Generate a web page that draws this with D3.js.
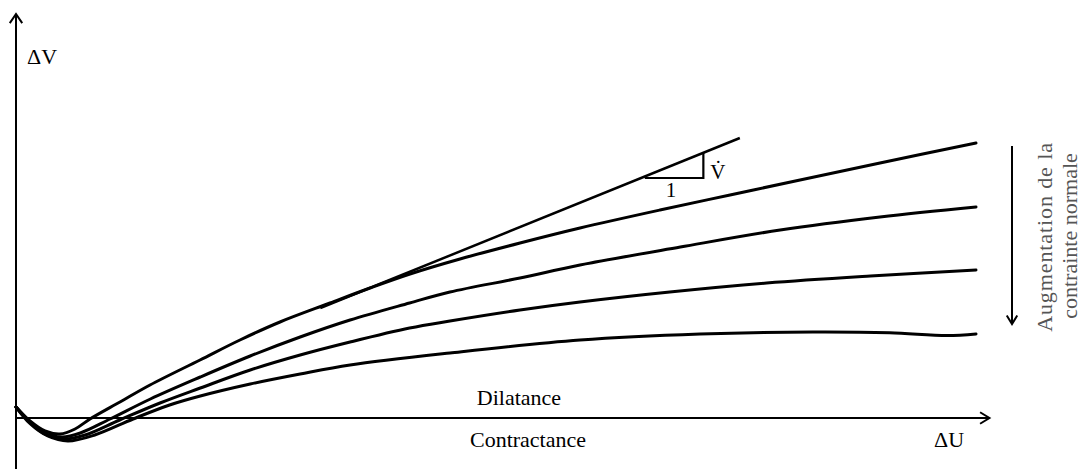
<!DOCTYPE html>
<html>
<head>
<meta charset="utf-8">
<script src="https://cdn.jsdelivr.net/npm/d3@7"></script>
<style>
  html, body { margin: 0; padding: 0; background: #fff; }
  svg { display: block; }
  text { font-family: "Liberation Serif", "Times New Roman", serif; }
</style>
</head>
<body>
<svg id="chart" width="1082" height="469"></svg>
<script>
const curve1X = [0, 1.46, 3.02, 4.58, 6.15, 7.71, 10.83, 13.96, 19.17, 23.33, 27.5, 32.71, 36.88, 41.04, 46.25, 52.5, 58.75, 67.08, 74.38, 81.67, 90, 100];
const curve1Y = [2.75, -0.75, -3.25, -4, -2.75, -0.25, 4, 8.25, 14.5, 19.5, 24, 28.75, 32.5, 36, 39.75, 43.75, 47.5, 52, 55.75, 59.5, 63.75, 68.75];

const curve2X = [0, 1.5, 3, 4.8, 6.7, 9.8, 14, 19.2, 24.4, 29.6, 34.8, 41, 45.2, 52.5, 58.75, 69.2, 79.6, 90, 100];
const curve2Y = [2.75, -1, -3.75, -4.75, -3.75, -0.25, 4.75, 10.25, 15.5, 20.25, 24.5, 28.75, 31.5, 35, 38.25, 42.75, 47, 50.25, 52.75];

const curve3X = [0, 1.5, 3, 5, 7.2, 10.8, 15, 19.2, 24.4, 29.6, 34.8, 41, 45.2, 52.5, 58.75, 68.1, 78.2, 89, 100];
const curve3Y = [2.75, -1.25, -4, -5.25, -4.25, -0.5, 3.75, 7.5, 12, 15.75, 19, 22.5, 24.25, 27, 29, 31.5, 33.75, 35.5, 37];

const curve4X = [0, 1.5, 3.3, 5.4, 8.2, 12.2, 16, 19.2, 24.4, 29.6, 34.8, 45.2, 58.75, 71.25, 83, 91, 97, 100];
const curve4Y = [2.75, -1.5, -4.5, -5.75, -4.25, -0.25, 3.25, 5.5, 8.5, 11, 13.25, 16.25, 19.5, 21, 21.5, 21.3, 20.6, 21];

// Tangent line to the top curve (start / end)
const tangentX = [31.7, 75.4];
const tangentY = [27.5, 70];
// Slope triangle: horizontal leg from x0 to x1 at height y0
const triangleX = [65.5, 71.6];
const triangleY0 = 60;

// Text labels
const yAxisLabel = "ΔV";
const xAxisLabel = "ΔU";
const aboveLabel = "Dilatance";
const belowLabel = "Contractance";
const runLabel = "1";
const riseLabel = "V̇";
const arrowLabels = ["Augmentation de la", "contrainte normale"];

// ---- Scales ----
const svg = d3.select("#chart");
const x = d3.scaleLinear().domain([0, 100]).range([16, 976]);
const y = d3.scaleLinear().domain([0, 100]).range([418, 18]);

const series = [
  d3.zip(curve1X, curve1Y),
  d3.zip(curve2X, curve2Y),
  d3.zip(curve3X, curve3Y),
  d3.zip(curve4X, curve4Y)
];

// ---- Axes (with open chevron arrowheads) ----
function chevron(tipX, tipY, dir, len, half) {
  const a1 = dir + Math.PI - half, a2 = dir + Math.PI + half;
  return `M${tipX + len * Math.cos(a1)},${tipY + len * Math.sin(a1)}L${tipX},${tipY}L${tipX + len * Math.cos(a2)},${tipY + len * Math.sin(a2)}`;
}

const axisG = svg.append("g").attr("stroke", "#000").attr("fill", "none");
axisG.append("line")
  .attr("x1", x(0)).attr("x2", x(0))
  .attr("y1", 469).attr("y2", y(101))
  .attr("stroke-width", 2);
axisG.append("path")
  .attr("d", chevron(x(0), y(101), -Math.PI / 2, 11, 0.6))
  .attr("stroke-width", 2);
axisG.append("line")
  .attr("x1", x(0)).attr("x2", x(101.4))
  .attr("y1", y(0)).attr("y2", y(0))
  .attr("stroke-width", 2);
axisG.append("path")
  .attr("d", chevron(x(101.4), y(0), 0, 11, 0.55))
  .attr("stroke-width", 2);

// ---- Curves ----
const line = d3.line()
  .x(d => x(d[0]))
  .y(d => y(d[1]))
  .curve(d3.curveCatmullRom.alpha(0.5));

svg.append("g")
  .selectAll("path")
  .data(series)
  .join("path")
  .attr("d", line)
  .attr("fill", "none")
  .attr("stroke", "#000")
  .attr("stroke-width", 3)
  .attr("stroke-linecap", "round");

// ---- Tangent line and slope triangle ----
const tangent = d3.zip(tangentX, tangentY);
svg.append("path")
  .attr("d", d3.line().x(d => x(d[0])).y(d => y(d[1]))(tangent))
  .attr("fill", "none").attr("stroke", "#000").attr("stroke-width", 2.5);

const tanAt = xv => tangentY[0] + (xv - tangentX[0]) * (tangentY[1] - tangentY[0]) / (tangentX[1] - tangentX[0]);
const tri = [[triangleX[0], triangleY0], [triangleX[1], triangleY0], [triangleX[1], tanAt(triangleX[1])]];
svg.append("path")
  .attr("d", d3.line().x(d => x(d[0])).y(d => y(d[1]))(tri))
  .attr("fill", "none").attr("stroke", "#000").attr("stroke-width", 2.2);

svg.append("text")
  .attr("x", (x(triangleX[0]) + x(triangleX[1])) / 2 - 3)
  .attr("y", y(triangleY0) + 19)
  .attr("text-anchor", "middle")
  .attr("font-size", 21)
  .text(runLabel);
svg.append("text")
  .attr("x", x(triangleX[1]) + 7)
  .attr("y", y(triangleY0) + 1)
  .attr("font-size", 21)
  .text(riseLabel);

// ---- Axis labels ----
svg.append("text")
  .attr("x", 27).attr("y", 64)
  .attr("font-size", 22)
  .text(yAxisLabel);
svg.append("text")
  .attr("x", 934).attr("y", 447)
  .attr("font-size", 22)
  .text(xAxisLabel);

svg.append("text")
  .attr("x", 519).attr("y", 405)
  .attr("text-anchor", "middle")
  .attr("font-size", 22)
  .text(aboveLabel);
svg.append("text")
  .attr("x", 528).attr("y", 447)
  .attr("text-anchor", "middle")
  .attr("font-size", 22)
  .text(belowLabel);

// ---- Side arrow with rotated labels ----
svg.append("line")
  .attr("x1", 1012).attr("x2", 1012)
  .attr("y1", 146).attr("y2", 324)
  .attr("stroke", "#000").attr("stroke-width", 2);
svg.append("path")
  .attr("d", chevron(1012, 324, Math.PI / 2, 10, 0.55))
  .attr("fill", "none").attr("stroke", "#000").attr("stroke-width", 2);

svg.append("g")
  .selectAll("text")
  .data(arrowLabels)
  .join("text")
  .attr("transform", (d, i) => `translate(${1052 + i * 25},${237 - i * 1}) rotate(-90)`)
  .attr("text-anchor", "middle")
  .attr("font-size", 22)
  .attr("letter-spacing", (d, i) => i === 0 ? 0.9 : 0)
  .attr("fill", "#555")
  .text(d => d);
</script>
</body>
</html>
